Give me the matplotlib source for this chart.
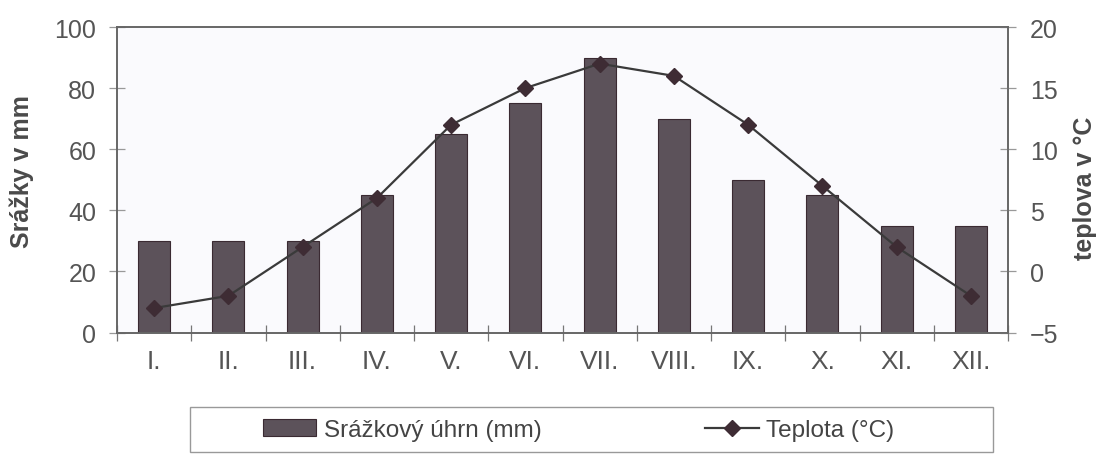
import numpy as np
import matplotlib
matplotlib.use("Agg")
import matplotlib.pyplot as plt
from matplotlib.patches import Rectangle

# monthly climate data
months = ["I.", "II.", "III.", "IV.", "V.", "VI.", "VII.", "VIII.", "IX.", "X.", "XI.", "XII."]
precip = [30, 30, 30, 45, 65, 75, 90, 70, 50, 45, 35, 35]
temp = [-3, -2, 2, 6, 12, 15, 17, 16, 12, 7, 2, -2]

plt.rcParams['font.family'] = ['Liberation Sans', 'DejaVu Sans']

W, H = 1096, 456
fig = plt.figure(figsize=(W / 100, H / 100), dpi=100)
ax = fig.add_axes([117 / W, 1 - 333.5 / H, (1008 - 117) / W, (333.5 - 28) / H])
ax.set_facecolor('#fafafd')
ax2 = ax.twinx()

x = np.arange(len(months))
bars = ax.bar(x, precip, width=0.43, color='#5c525a', edgecolor='#3a2a32',
              linewidth=0.8, label='Srážkový úhrn (mm)', zorder=2)
line, = ax2.plot(x, temp, color='#3a3a3a', lw=1.6, marker='D', markersize=8,
                 markerfacecolor='#3e2c34', markeredgecolor='#3e2c34',
                 label='Teplota (°C)')

ax.set_xlim(-0.5, 11.5)
ax.set_ylim(0, 100)
ax2.set_ylim(-5, 20)

ax.set_yticks(range(0, 101, 20))
ax2.set_yticks(range(-5, 21, 5))
ax.set_xticks(x)
ax.set_xticklabels(months, fontsize=19, color='#555555')
ax.set_xticks(np.arange(-0.5, 12, 1), minor=True)
ax.tick_params(axis='x', which='major', length=0, pad=12)
ax.tick_params(axis='x', which='minor', direction='inout', length=12,
               width=0.9, color='#777777')
ax.tick_params(axis='y', direction='inout', length=12, width=0.9,
               color='#999999', labelsize=18, labelcolor='#555555', pad=9)
ax2.tick_params(axis='y', direction='inout', length=12, width=0.9,
                color='#999999', labelsize=18, labelcolor='#555555', pad=10)

for a in (ax, ax2):
    for s in a.spines.values():
        s.set_color('#666666')
        s.set_linewidth(1.2)

fig.text(22 / W, 1 - 172 / H, 'Srážky v mm', rotation=90, ha='center',
         va='center', fontsize=18, fontweight='bold', color='#4a4a4a')
fig.text(1085 / W, 1 - 188 / H, 'teplova v °C', rotation=90, ha='center',
         va='center', fontsize=18, fontweight='bold', color='#4a4a4a')

# legend box below the plot
fig.patches.append(Rectangle((190 / W, 1 - 453 / H), (993 - 190) / W, 45 / H,
                             transform=fig.transFigure, facecolor='white',
                             edgecolor='#999999', linewidth=1.0))
fig.legend([bars, line], ['Srážkový úhrn (mm)', 'Teplota (°C)'], ncol=2,
           loc='center left', bbox_to_anchor=(263 / W, 1 - 431 / H),
           frameon=False, borderpad=0, borderaxespad=0, handlelength=2.2,
           handletextpad=0.29, columnspacing=6.75,
           prop={'size': 17.5}, labelcolor='#444444')

fig.savefig('out.png', dpi=100, facecolor='white')
